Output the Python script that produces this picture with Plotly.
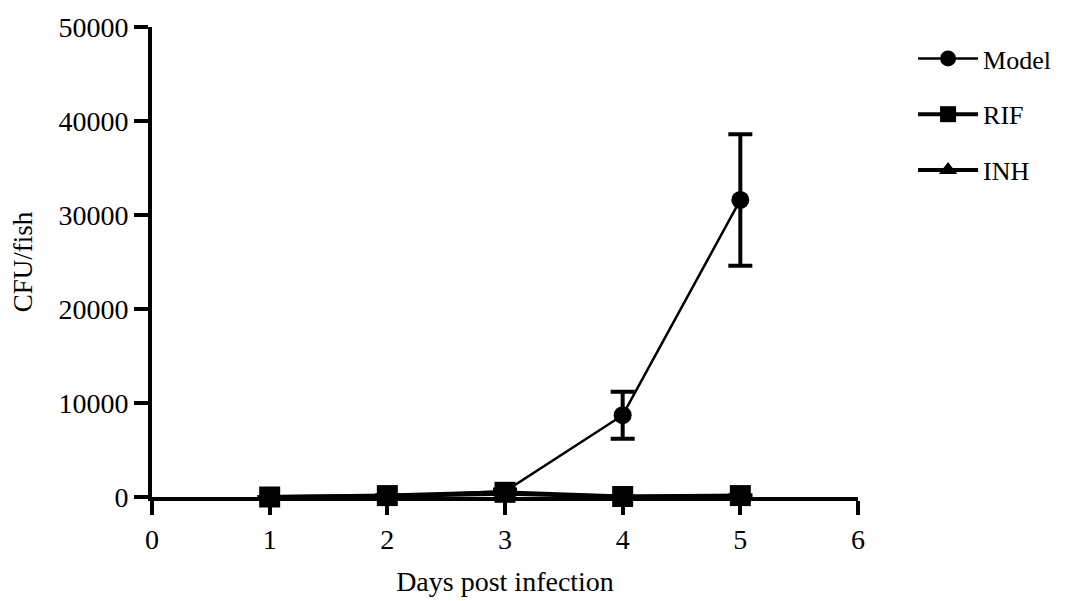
import plotly.graph_objects as go

# Data
days = [1, 2, 3, 4, 5]
model = [0, 100, 600, 8700, 31600]
model_err = [0, 50, 200, 2500, 7000]
rif = [0, 150, 500, 50, 150]
rif_err = [0, 30, 80, 20, 30]
inh = [0, 100, 350, 30, 80]
inh_err = [0, 20, 60, 10, 20]

x_ticks = [0, 1, 2, 3, 4, 5, 6]
y_ticks = [0, 10000, 20000, 30000, 40000, 50000]

FONT = "Liberation Serif"

fig = go.Figure()

series = [
    ("Model", model, model_err, "circle", 18, 2.5),
    ("RIF", rif, rif_err, "square", 21, 4),
    ("INH", inh, inh_err, "triangle-up", 16, 4),
]
for name, vals, err, symbol, size, lw in series:
    fig.add_trace(go.Scatter(
        x=days, y=vals, name=name, legendgroup=name, mode="lines+markers",
        line=dict(color="black", width=lw),
        marker=dict(symbol=symbol, size=size, color="black"),
        error_y=dict(type="data", array=err, color="black", thickness=4, width=12),
        cliponaxis=False,
    ))

# page body adds ~8px offset, so margins are trimmed accordingly
fig.update_layout(
    width=1080, height=601,
    paper_bgcolor="white", plot_bgcolor="white",
    margin=dict(l=144, r=230, t=19, b=112),
    font=dict(family=FONT, size=26, color="black"),
    showlegend=True,
    legend=dict(
        x=1.078, y=0.983, xanchor="left", yanchor="top",
        font=dict(family=FONT, size=26, color="black"),
        tracegroupgap=19, itemwidth=60,
    ),
    xaxis=dict(
        range=[0, 6], tickvals=x_ticks, showgrid=False, zeroline=False,
        showline=True, linecolor="black", linewidth=4, automargin=False,
        ticks="outside", ticklen=14, tickwidth=4, tickcolor="black",
        tickfont=dict(size=28),
        title=dict(text="Days post infection", font=dict(size=28), standoff=19),
    ),
    yaxis=dict(
        range=[0, 50000], tickvals=y_ticks, tickformat="d", showgrid=False, zeroline=False,
        showline=True, linecolor="black", linewidth=4, automargin=False,
        ticks="outside", ticklen=14, tickwidth=4, tickcolor="black",
        tickfont=dict(size=28),
        title=dict(text="CFU/fish", font=dict(size=27), standoff=32),
    ),
)

fig.write_html("out.html")
